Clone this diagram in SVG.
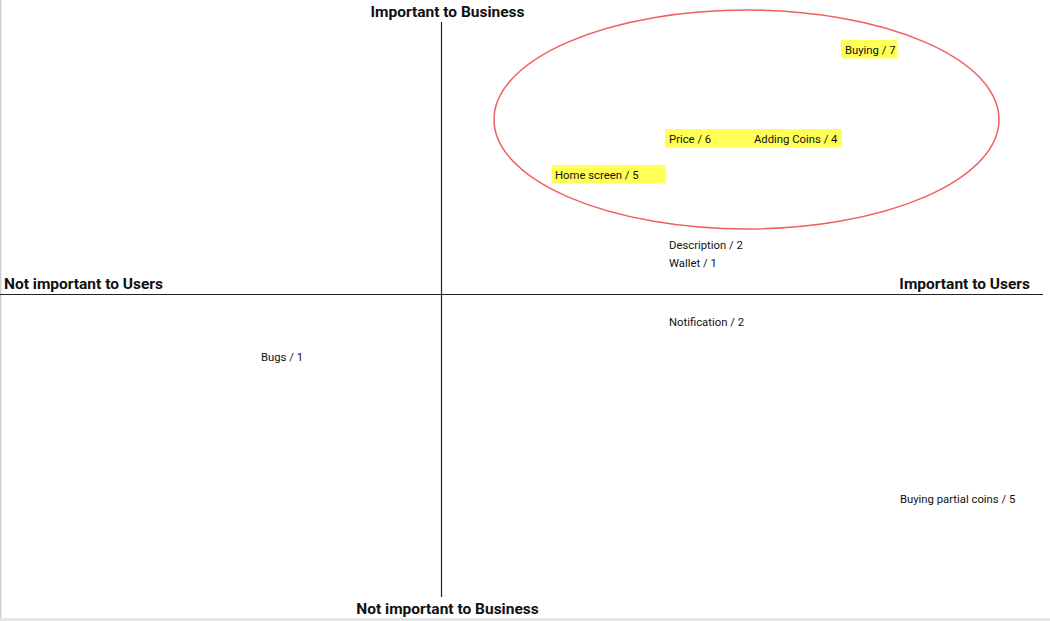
<svg xmlns="http://www.w3.org/2000/svg" width="1050" height="621" viewBox="0 0 1050 621">
<style>
.axis{stroke:#222;stroke-width:1.2;fill:none}
.head{font-family:Roboto,"Liberation Sans",sans-serif;font-weight:bold;font-size:15.5px;fill:#111}
.lbl{font-family:Roboto,"Liberation Sans",sans-serif;font-size:11.3px;fill:#111}
.hl{fill:#ffff55}
.ring{fill:none;stroke:#ef5f5f;stroke-width:1.5}
</style>
<rect x="0" y="0" width="1050" height="621" fill="#fff"/>
<rect x="0" y="0" width="1.5" height="621" fill="#d0d0d0"/>
<rect x="0" y="618" width="1050" height="3" fill="#e6e6e6"/>
<g id="connectors">
<line class="axis" x1="441.5" y1="22" x2="441.5" y2="597"/>
<line class="axis" x1="0" y1="294.5" x2="1043" y2="294.5"/>
<ellipse class="ring" cx="746.5" cy="119.5" rx="252.5" ry="109.5"/>
</g>
<g id="axis-top"><text class="head" x="447.5" y="17" text-anchor="middle">Important to Business</text></g>
<g id="axis-bottom"><text class="head" x="447.5" y="614" text-anchor="middle">Not important to Business</text></g>
<g id="axis-left"><text class="head" x="4" y="289">Not important to Users</text></g>
<g id="axis-right"><text class="head" x="1030" y="289" text-anchor="end">Important to Users</text></g>
<g id="buying"><rect class="hl" x="841" y="40" width="56" height="18.5"/><text class="lbl" x="845" y="54">Buying / 7</text></g>
<g id="price"><rect class="hl" x="665" y="129" width="86" height="18.5"/><text class="lbl" x="669" y="143">Price / 6</text></g>
<g id="adding-coins"><rect class="hl" x="750" y="129" width="92" height="18.5"/><text class="lbl" x="754" y="143">Adding Coins / 4</text></g>
<g id="home-screen"><rect class="hl" x="551.5" y="165" width="114" height="18.5"/><text class="lbl" x="555" y="179">Home screen / 5</text></g>
<g id="description"><text class="lbl" x="669" y="249">Description / 2</text></g>
<g id="wallet"><text class="lbl" x="669" y="267">Wallet / 1</text></g>
<g id="notification"><text class="lbl" x="669" y="326">Notification / 2</text></g>
<g id="bugs"><text class="lbl" x="261" y="361">Bugs / 1</text></g>
<g id="buying-partial"><text class="lbl" x="900" y="503">Buying partial coins / 5</text></g>
</svg>
